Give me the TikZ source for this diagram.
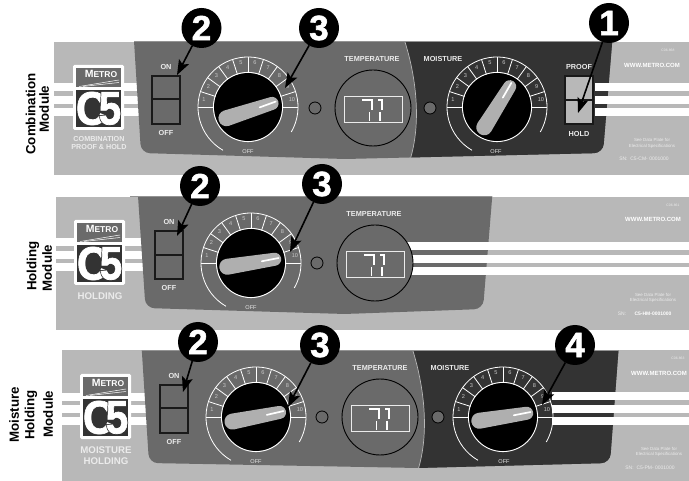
\documentclass[tikz,border=0pt]{standalone}
\usepackage{fontspec}
\usepackage{graphicx}
\setmainfont{Liberation Sans}
\newfontfamily\badgefont[FakeBold=1.5]{Liberation Sans Bold}
\newfontfamily\logofont[FakeBold=1.5]{Liberation Sans Bold}
\newfontfamily\logofat[FakeBold=5]{Liberation Sans Bold}
\usetikzlibrary{arrows.meta}
\definecolor{bgc}{HTML}{B8B8B8}
\definecolor{midc}{HTML}{6A6A6A}
\definecolor{darkc}{HTML}{333333}
\definecolor{soft}{HTML}{EBEBEB}
\newcommand{\fsz}[1]{\fontsize{#1}{#1}\selectfont}
\tikzset{
  x=1pt,y=-1pt,
  every node/.style={inner sep=0pt,outer sep=0pt},
  badge/.style={circle,fill=black,minimum size=40pt,text=white,font=\badgefont\fsz{35}},
  callout/.style={draw=black,line width=1.6pt,-{Stealth[length=15pt,width=11pt,inset=3pt]}},
  stripe/.style={fill=white},
  panellab/.style={font=\bfseries\fsz{7.3},text=soft},
  modlab/.style={rotate=90,font=\bfseries\fsz{13.3},text=black},
  dialnum/.style={font=\fsz{5.6},text=soft!85!black},
  offlab/.style={font=\fsz{5.6},text=soft},
  swbox/.style={draw=black!90,line width=1.8pt},
}
% cx cy angle offset
\newcommand{\dial}[4]{%
  \begin{scope}[shift={(#1,#2)}]
    \draw[white,line width=.8pt] (-240:50) arc (-240:30:50);
    \foreach \k in {0,...,10}{\draw[white,line width=.8pt] ({-18*\k}:34) -- ({-18*\k}:50);}
    \foreach \k in {1,...,10}{\node[dialnum] at ({-(189-18*\k)}:44.5) {\k};}
    \fill[black] (0,0) circle (34);
    \draw[white,line width=.9pt] (0,0) circle (34.6);
    \begin{scope}[rotate=#3]
      \fill[bgc!95!black] (-24,#4-8) -- (24,#4-6.5) arc (-90:90:6.5) -- (-24,#4+8) arc (90:270:8) -- cycle;
      \draw[white,line width=1.7pt,line cap=round] (11,#4) -- (28,#4-.6);
    \end{scope}
  \end{scope}}
% cx cy temperature display
\newcommand{\tempdisp}[2]{%
  \begin{scope}[shift={(#1,#2)}]
    \draw[black,line width=.9pt,fill=midc] (0,0) circle (38);
    \draw[soft,line width=.9pt] (-29,-12) rectangle (29,14);
    \draw[white,line width=1.2pt] (-11,-8) -- (-1,-8) -- (-1,2);
    \draw[white,line width=1.2pt] (-3.5,4) -- (-3.5,13);
    \draw[white,line width=1.2pt] (5,-8) -- (9,-8) -- (9,2);
    \draw[white,line width=1.2pt] (7,4) -- (7,13);
  \end{scope}}
% x y top-left
\newcommand{\logo}[2]{%
  \begin{scope}[shift={(#1,#2)}]
    \fill[white,rounded corners=1.5pt] (0,0) rectangle (51,65);
    \fill[midc] (3,3) rectangle (48,22);
    \draw[white,line width=.5pt] (6,21.5) -- (46,15);
    \draw[white,line width=.5pt] (10,21.5) -- (46,17.5);
    \node[text=white,font=\bfseries] at (28,9) {\fsz{10.5}M\fsz{8.5}ETRO};
    \fill[darkc] (3,25) rectangle (48,62);
    \node[text=white,font=\logofont\fsz{47}] at (18.5,43.5) {\scalebox{.92}[1]{C}};
    \node[text=darkc,font=\logofat\fsz{47}] at (37,43.5) {\scalebox{.86}[1]{5}};
    \node[text=white,font=\logofont\fsz{47}] at (37,43.5) {\scalebox{.86}[1]{5}};
  \end{scope}}
\newcommand{\sw}[4]{% x y fill colour; height 48
  \fill[#3] (#1,#2) rectangle ++(28,48);
  \draw[swbox] (#1,#2) rectangle ++(28,48);
  \draw[swbox] (#1,#4) -- ++(28,0);}
\begin{document}
\begin{tikzpicture}
\useasboundingbox (0,0) rectangle (689,481);
% ---------- panel backgrounds
\fill[bgc] (54,42) rectangle (689,175);
\fill[bgc] (56,197) rectangle (689,330);
\fill[bgc] (62,350) rectangle (689,481);
% left stripes
\foreach \a in {83,96,108}{\fill[stripe] (54,\a) rectangle (145,\a+8);}
\foreach \a in {238,251,263}{\fill[stripe] (56,\a) rectangle (150,\a+8);}
\foreach \a in {393,405,417}{\fill[stripe] (62,\a) rectangle (155,\a+8);}
% ---------- panel 1
\begin{scope}
  \clip (100,42) rectangle (650,180);
  \fill[midc,rounded corners=9pt] (132.7,20) -- (141,153) -- (345,159) -- (603,153) -- (614,20) -- cycle;
  \clip[rounded corners=9pt] (132.7,20) -- (141,153) -- (345,159) -- (603,153) -- (614,20) -- cycle;
  \fill[darkc] (405,42) .. controls (417,80) and (421,125) .. (410,160) -- (620,160) -- (620,42) -- cycle;
  \draw[bgc,line width=.7pt] (405,42) .. controls (417,80) and (421,125) .. (410,160);
  \draw[bgc!80!black,line width=1pt] (130,42) -- (616,42);
\end{scope}
\foreach \a in {83,96,108}{\fill[stripe] (595,\a) rectangle (689,\a+8);}
\sw{152}{76}{midc}{99}
\node[panellab] at (166,67) {ON};
\node[panellab] at (166,133) {OFF};
\dial{248}{107}{18}{4}
\node[offlab] at (248,152) {OFF};
\draw[black,line width=.8pt,fill=midc] (315,108) circle (6);
\node[panellab] at (372,59) {TEMPERATURE};
\tempdisp{373}{108}
\node[panellab] at (443,59) {MOISTURE};
\draw[black,line width=.8pt,fill=midc] (430,108) circle (6);
\dial{497}{107}{58}{0}
\node[offlab] at (496,152) {OFF};
\sw{565}{76}{bgc}{100}
\node[panellab] at (579,67) {PROOF};
\node[panellab] at (579,134) {HOLD};
\logo{73}{65}
\node[font=\bfseries\fsz{7.2},text=soft] at (99,139) {COMBINATION};
\node[font=\bfseries\fsz{7.2},text=soft] at (99,147.5) {PROOF \& HOLD};
\node[font=\fsz{3.4},text=soft] at (668,50) {C06-868};
\node[font=\bfseries\fsz{6},text=white] at (652,65) {WWW.METRO.COM};
\node[font=\fsz{4.4},text=soft] at (652,140) {See Data Plate for};
\node[font=\fsz{4.4},text=soft] at (652,146) {Electrical Specifications};
\node[font=\fsz{5},text=soft] at (644,159) {SN:\ \ C5-CM- 0001000};
\node[modlab] at (30.5,114) {Combination};
\node[modlab] at (44,109) {Module};
% ---------- panel 2
\begin{scope}
  \clip (100,197) rectangle (650,330);
  \fill[midc,rounded corners=9pt] (136.6,175) -- (145.5,308) -- (345,314) -- (483,309) -- (494,175) -- cycle;
  \draw[bgc!80!black,line width=1pt] (130,197) -- (492,197);
\end{scope}
\foreach \a in {242,255,267}{\fill[stripe] (400,\a) rectangle (689,\a+8);}
\sw{155}{231}{midc}{255}
\node[panellab] at (169,222) {ON};
\node[panellab] at (169,288) {OFF};
\dial{251}{263}{9}{0}
\node[offlab] at (251,308) {OFF};
\draw[black,line width=.8pt,fill=midc] (317,263) circle (6);
\node[panellab] at (374,214) {TEMPERATURE};
\tempdisp{375}{263}
\logo{74}{220}
\node[font=\bfseries\fsz{9.7},text=soft] at (100,296) {HOLDING};
\node[font=\fsz{3.4},text=soft] at (673,205) {C06-861};
\node[font=\bfseries\fsz{6},text=white] at (653,219) {WWW.METRO.COM};
\node[font=\fsz{4.4},text=soft] at (653,295) {See Data Plate for};
\node[font=\fsz{4.4},text=soft] at (653,300.5) {Electrical Specifications};
\node[font=\fsz{5},text=soft] at (622,313.5) {SN:};
\node[font=\bfseries\fsz{5},text=white] at (653,313.5) {C5-HM-0001000};
\node[modlab] at (33,266) {Holding};
\node[modlab] at (47,268) {Module};
% ---------- panel 3
\begin{scope}
  \clip (100,351) rectangle (650,481);
  \fill[midc,rounded corners=9pt] (140.5,330) -- (149,463) -- (418,468) -- (610,463) -- (620,330) -- cycle;
  \clip[rounded corners=9pt] (140.5,330) -- (149,463) -- (418,468) -- (610,463) -- (620,330) -- cycle;
  \fill[darkc] (413,351) .. controls (425,390) and (429,435) .. (418,470) -- (625,470) -- (625,351) -- cycle;
  \draw[bgc,line width=.7pt] (413,351) .. controls (425,390) and (429,435) .. (418,470);
  \draw[bgc!80!black,line width=1pt] (138,351) -- (622,351);
\end{scope}
\foreach \a in {392,405,417}{\fill[stripe] (552,\a) rectangle (689,\a+8);}
\sw{160}{385}{midc}{408}
\node[panellab] at (174,376) {ON};
\node[panellab] at (174,442) {OFF};
\dial{256}{417}{11}{0}
\node[offlab] at (256,462) {OFF};
\draw[black,line width=.8pt,fill=midc] (322,417) circle (6);
\node[panellab] at (380,368) {TEMPERATURE};
\tempdisp{380}{417}
\node[panellab] at (450,368) {MOISTURE};
\draw[black,line width=.8pt,fill=midc] (438,417) circle (6);
\dial{503}{417}{9}{0}
\node[offlab] at (504,462) {OFF};
\logo{80}{374}
\node[font=\bfseries\fsz{9.7},text=soft] at (106,450) {MOISTURE};
\node[font=\bfseries\fsz{9.7},text=soft] at (106,461.5) {HOLDING};
\node[font=\fsz{3.4},text=soft] at (678,358) {C06-863};
\node[font=\bfseries\fsz{6},text=white] at (659,373) {WWW.METRO.COM};
\node[font=\fsz{4.4},text=soft] at (659,449) {See Data Plate for};
\node[font=\fsz{4.4},text=soft] at (659,454.5) {Electrical Specifications};
\node[font=\fsz{5},text=soft] at (650,468) {SN:\ \ C5-PM- 0001000};
\node[modlab] at (14,415) {Moisture};
\node[modlab] at (31,415) {Holding};
\node[modlab] at (48,414) {Module};
% ---------- callouts
\node[badge] (b1a) at (201.5,28) {2};
\node[badge] (c1a) at (319,28) {3};
\node[badge] (a1)  at (609,23) {1};
\node[badge] (b2a) at (200,186) {2};
\node[badge] (c2a) at (322,184) {3};
\node[badge] (b3a) at (198,342) {2};
\node[badge] (c3a) at (320,345) {3};
\node[badge] (d3a) at (575,345) {4};
\coordinate (tb1) at (177,75);
\coordinate (tc1) at (285,88);
\coordinate (ta1) at (578,113);
\coordinate (tb2) at (177,236);
\coordinate (tc2) at (290,252);
\coordinate (tb3) at (183,392);
\coordinate (tc3) at (288,407);
\coordinate (td3) at (542,405);
\draw[callout] (b1a) -- (tb1);
\draw[callout] (c1a) -- (tc1);
\draw[callout] (a1) -- (ta1);
\draw[callout] (b2a) -- (tb2);
\draw[callout] (c2a) -- (tc2);
\draw[callout] (b3a) -- (tb3);
\draw[callout] (c3a) -- (tc3);
\draw[callout] (d3a) -- (td3);
\end{tikzpicture}
\end{document}
